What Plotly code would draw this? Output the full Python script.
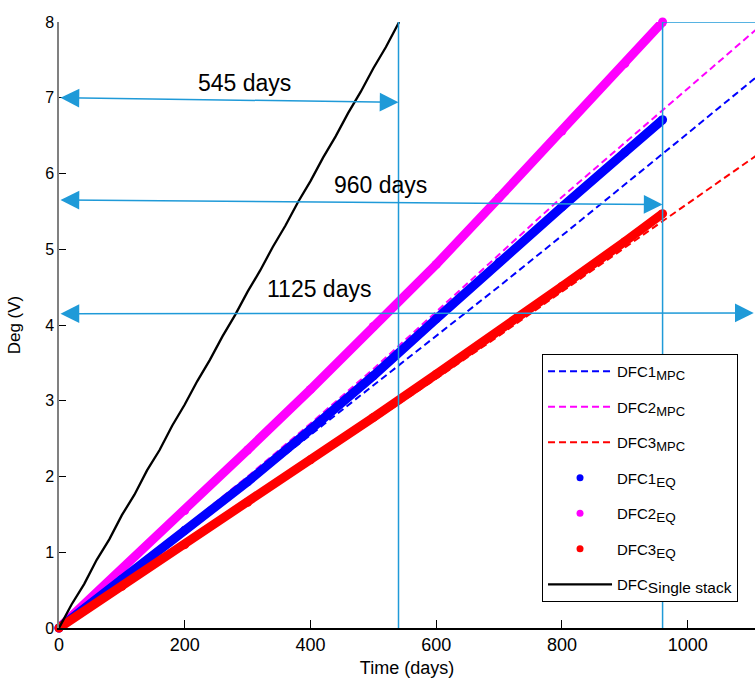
import plotly.graph_objects as go

# ---------------- data ----------------
days_eq = [0, 100, 200, 300, 400, 500, 600, 700, 800, 900, 960]
dfc1_eq = [0, 0.64, 1.29, 1.93, 2.62, 3.33, 4.08, 4.83, 5.56, 6.28, 6.71]
dfc2_eq = [0, 0.77, 1.55, 2.35, 3.15, 3.98, 4.80, 5.68, 6.56, 7.45, 8.0]
dfc3_eq = [0, 0.55, 1.10, 1.66, 2.22, 2.78, 3.35, 3.92, 4.51, 5.10, 5.47]

days_mpc = [0, 100, 200, 300, 400, 500, 600, 700, 800, 900, 1000, 1100, 1120]
dfc1_mpc = [0, 0.63, 1.26, 1.90, 2.55, 3.20, 3.85, 4.51, 5.18, 5.85, 6.53, 7.21, 7.35]
dfc2_mpc = [0, 0.66, 1.33, 2.00, 2.70, 3.42, 4.17, 4.93, 5.69, 6.41, 7.13, 7.84, 7.98]
dfc3_mpc = [0, 0.54, 1.08, 1.63, 2.18, 2.73, 3.29, 3.86, 4.44, 5.02, 5.60, 6.18, 6.30]

days_single = [0, 20, 40, 60, 80, 100, 120, 140, 160, 180, 200, 220, 240, 260, 280,
               300, 320, 340, 360, 380, 400, 420, 440, 460, 480, 500, 520, 541]
dfc_single = [0, 0.31, 0.58, 0.90, 1.17, 1.49, 1.76, 2.08, 2.35, 2.67, 2.95, 3.26, 3.54,
              3.85, 4.13, 4.44, 4.72, 5.03, 5.31, 5.62, 5.90, 6.21, 6.49, 6.80, 7.08,
              7.39, 7.67, 8.0]

# annotation data
ann_labels = ["545 days", "960 days", "1125 days"]
ann_end_days = [540, 960, 1105]
ann_levels_left = [7.0, 5.65, 4.15]
ann_levels_right = [6.94, 5.59, 4.16]
ann_text_x = [295, 511, 413]
ann_text_y = [7.2, 5.85, 4.47]
vline_days = [540, 960]

x_ticks = [0, 200, 400, 600, 800, 1000]
y_ticks = [0, 1, 2, 3, 4, 5, 6, 7, 8]

# ---------------- styling ----------------
BLUE = "#0000ff"
MAG = "#ff00ff"
RED = "#ff0000"
ANN = "#1f9ad8"
FONT = "Liberation Sans, Arial, sans-serif"
DASH = "7px,4px"


def sub(main, s, size):
    return f"{main}<sub><span style='font-size:{size}px'>{s}</span></sub>"


fig = go.Figure()

for name, ys, col in [(sub("DFC1", "MPC", 13), dfc1_mpc, BLUE),
                      (sub("DFC2", "MPC", 13), dfc2_mpc, MAG),
                      (sub("DFC3", "MPC", 13), dfc3_mpc, RED)]:
    fig.add_trace(go.Scatter(x=days_mpc, y=ys, mode="lines", name=name,
                             legendgroup=name,
                             line=dict(color=col, width=2, dash=DASH)))

for ys, col in [(dfc2_eq, MAG), (dfc1_eq, BLUE), (dfc3_eq, RED)]:
    fig.add_trace(go.Scatter(x=days_eq, y=ys, mode="lines+markers", showlegend=False,
                             line=dict(color=col, width=9),
                             marker=dict(color=col, size=9), cliponaxis=False))

for name, col in [(sub("DFC1", "EQ", 13.5), BLUE), (sub("DFC2", "EQ", 13.5), MAG),
                  (sub("DFC3", "EQ", 13.5), RED)]:
    fig.add_trace(go.Scatter(x=[None], y=[None], mode="markers", name=name,
                             legendgroup=name, marker=dict(color=col, size=7)))

fig.add_trace(go.Scatter(x=days_single, y=dfc_single, mode="lines",
                         name=sub("DFC", "Single stack", 15.5), legendgroup="single",
                         line=dict(color="black", width=2.3)))

for d in vline_days:
    fig.add_shape(type="line", xref="x", yref="y", x0=d, x1=d, y0=0, y1=8,
                  line=dict(color=ANN, width=1.5))
fig.add_shape(type="line", xref="x", yref="y", x0=vline_days[1], x1=1107, y0=8, y1=8,
              line=dict(color=ANN, width=1.5))

for lab, xe, yl, yr, tx, ty in zip(ann_labels, ann_end_days, ann_levels_left,
                                   ann_levels_right, ann_text_x, ann_text_y):
    fig.add_annotation(x=xe, y=yr, ax=0, ay=yl, xref="x", yref="y", axref="x", ayref="y",
                       text="", showarrow=True, arrowside="end+start",
                       arrowhead=2, startarrowhead=2, arrowsize=2.5, startarrowsize=2.5,
                       arrowwidth=1.5, arrowcolor=ANN, standoff=0, startstandoff=0)
    fig.add_annotation(x=tx, y=ty, xref="x", yref="y", text=lab, showarrow=False,
                       font=dict(family=FONT, size=23, color="black"))

fig.update_layout(
    width=755, height=678,
    margin=dict(l=59, r=0, t=22, b=50, pad=0),
    paper_bgcolor="white", plot_bgcolor="white",
    font=dict(family=FONT, size=15, color="black"),
    showlegend=True,
    legend=dict(x=0.694, y=0.452, xanchor="left", yanchor="top",
                bgcolor="white", bordercolor="black", borderwidth=1,
                font=dict(family=FONT, size=15, color="black"),
                traceorder="grouped", tracegroupgap=13, itemwidth=64),
)
fig.update_xaxes(range=[0, 1107], tickvals=x_ticks, ticks="inside", ticklen=8,
                 tickcolor="black", showline=True, linecolor="black", linewidth=1.5,
                 showgrid=False, zeroline=False, automargin=False,
                 tickfont=dict(family=FONT, size=18),
                 title=dict(text="Time (days)", font=dict(family=FONT, size=18), standoff=14))
fig.update_yaxes(range=[0, 8], tickvals=y_ticks, ticks="inside", ticklen=7,
                 tickcolor="black", showline=True, linecolor="#808080", linewidth=1.5,
                 showgrid=False, zeroline=False, automargin=False,
                 tickfont=dict(family=FONT, size=16),
                 title=dict(text="Deg (V)", font=dict(family=FONT, size=17), standoff=20))

fig.write_html("out.html", config={"displayModeBar": False},
               post_script="document.body.style.margin='0';document.body.style.overflow='hidden';")
